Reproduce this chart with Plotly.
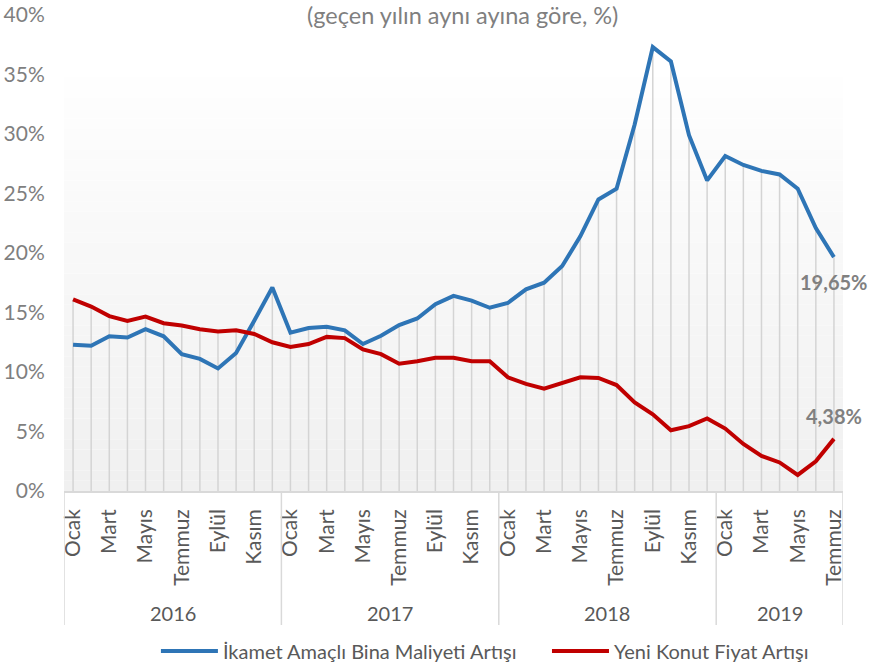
import plotly.graph_objects as go

months = ["Ocak", "Şubat", "Mart", "Nisan", "Mayıs", "Haziran", "Temmuz",
          "Ağustos", "Eylül", "Ekim", "Kasım", "Aralık"]
years = ["2016", "2017", "2018", "2019"]
months_per_year = [12, 12, 12, 7]

maliyet = [12.3, 12.2, 13.0, 12.9, 13.6, 13.0, 11.5, 11.1, 10.3, 11.6, 14.3, 17.1,
           13.3, 13.7, 13.8, 13.5, 12.35, 13.05, 13.95, 14.5, 15.7, 16.4, 16.0, 15.4,
           15.8, 16.95, 17.5, 18.9, 21.4, 24.5, 25.4, 30.8, 37.3, 36.1, 29.9, 26.1,
           28.15, 27.4, 26.9, 26.6, 25.4, 22.1, 19.65]
fiyat = [16.1, 15.5, 14.7, 14.3, 14.65, 14.1, 13.9, 13.6, 13.4, 13.5, 13.2, 12.5,
         12.1, 12.35, 12.95, 12.85, 11.9, 11.5, 10.7, 10.9, 11.2, 11.2, 10.9, 10.9,
         9.55, 9.0, 8.6, 9.1, 9.55, 9.5, 8.9, 7.45, 6.45, 5.1, 5.45, 6.1,
         5.25, 3.95, 2.95, 2.4, 1.35, 2.5, 4.38]

series_names = ["İkamet Amaçlı Bina Maliyeti Artışı", "Yeni Konut Fiyat Artışı"]
subtitle = "(geçen yılın aynı ayına göre, %)"
end_labels = ["19,65%", "4,38%"]
y_ticks = [0, 5, 10, 15, 20, 25, 30, 35, 40]
y_ticktext = ["0%", "5%", "10%", "15%", "20%", "25%", "30%", "35%", "40%"]

FONT = "Lato"
BLUE = "#2e75b6"
RED = "#c00000"
GRID = "#d9d9d9"

labels = []
for y, n in zip(years, months_per_year):
    labels += months[:n]
N = len(labels)
xs = list(range(N))

fig = go.Figure()

# gradient background bands (plot-area fill)
nb = 40
top = 0.8697
for k in range(nb):
    t = k / (nb - 1)
    c = int(round(240 + (254 - 240) * t))
    fig.add_shape(type="rect", xref="paper", yref="paper", x0=0, x1=1,
                  y0=top * k / nb, y1=top * (k + 1) / nb,
                  fillcolor=f"rgb({c},{c},{c})", line_width=0, layer="below")

# high-low drop lines
hx, hy = [], []
for i in xs:
    hx += [i, i, None]
    hy += [0, max(maliyet[i], fiyat[i]), None]
fig.add_trace(go.Scatter(x=hx, y=hy, mode="lines", line=dict(color="#d4d4d4", width=1.5),
                         hoverinfo="skip", showlegend=False))

fig.add_trace(go.Scatter(x=xs, y=maliyet, mode="lines", name=series_names[0],
                         line=dict(color=BLUE, width=4), legend="legend"))
fig.add_trace(go.Scatter(x=xs, y=fiyat, mode="lines", name=series_names[1],
                         line=dict(color=RED, width=4), legend="legend2"))

# year separators
bounds = [-0.5]
for n in months_per_year:
    bounds.append(bounds[-1] + n)
for b in bounds:
    fig.add_shape(type="line", xref="x", yref="paper", x0=b, x1=b, y0=0, y1=-0.2815,
                  line=dict(color=GRID, width=1.5))
for k, yname in enumerate(years):
    fig.add_annotation(x=(bounds[k] + bounds[k + 1]) / 2, y=-0.256, xref="x", yref="paper",
                       text=yname, showarrow=False, yanchor="middle",
                       font=dict(family=FONT, size=20, color="#595959"))

# end labels
fig.add_annotation(x=N - 1, y=maliyet[-1], xref="x", yref="y", text="<b>" + end_labels[0] + "</b>",
                   showarrow=False, yshift=-25, xanchor="center",
                   font=dict(family=FONT, size=20, color="#808080"))
fig.add_annotation(x=N - 1, y=fiyat[-1], xref="x", yref="y", text="<b>" + end_labels[1] + "</b>",
                   showarrow=False, yshift=23, xanchor="center",
                   font=dict(family=FONT, size=20, color="#808080"))

# subtitle
fig.add_annotation(x=0.5116, y=1.0, xref="paper", yref="paper", yanchor="middle", text=subtitle,
                   showarrow=False, font=dict(family=FONT, size=23.5, color="#7f7f7f"))

leg_common = dict(orientation="h", xanchor="left", y=-0.336, yanchor="middle",
                  font=dict(family=FONT, size=20, color="#595959"), itemwidth=57,
                  bgcolor="rgba(0,0,0,0)")

fig.update_layout(
    width=872, height=664,
    margin=dict(l=64, r=29, t=15, b=173, autoexpand=False),
    paper_bgcolor="white", plot_bgcolor="rgba(0,0,0,0)",
    font=dict(family=FONT, size=20, color="#595959"),
    showlegend=True,
    legend=dict(x=0.118, **leg_common),
    legend2=dict(x=0.62, **leg_common),
    xaxis=dict(range=[-0.5, N - 0.5], tickvals=xs[::2], ticktext=labels[::2], tickangle=-90,
               showgrid=False, zeroline=False, showline=True, linecolor=GRID, linewidth=1.5,
               ticks="outside", ticklen=8, tickcolor="rgba(0,0,0,0)",
               tickfont=dict(family=FONT, size=21, color="#595959")),
    yaxis=dict(range=[0, 40], tickmode="array", tickvals=y_ticks, ticktext=y_ticktext,
               showgrid=False, zeroline=False, showline=False,
               ticks="outside", ticklen=14, tickcolor="rgba(0,0,0,0)",
               tickfont=dict(family=FONT, size=21, color="#7f7f7f")),
)

# remove the default 8px page margin so the figure sits at the window's corner
fig.write_html("out.html", config={"displayModeBar": False},
               post_script="document.body.style.margin='0';")
